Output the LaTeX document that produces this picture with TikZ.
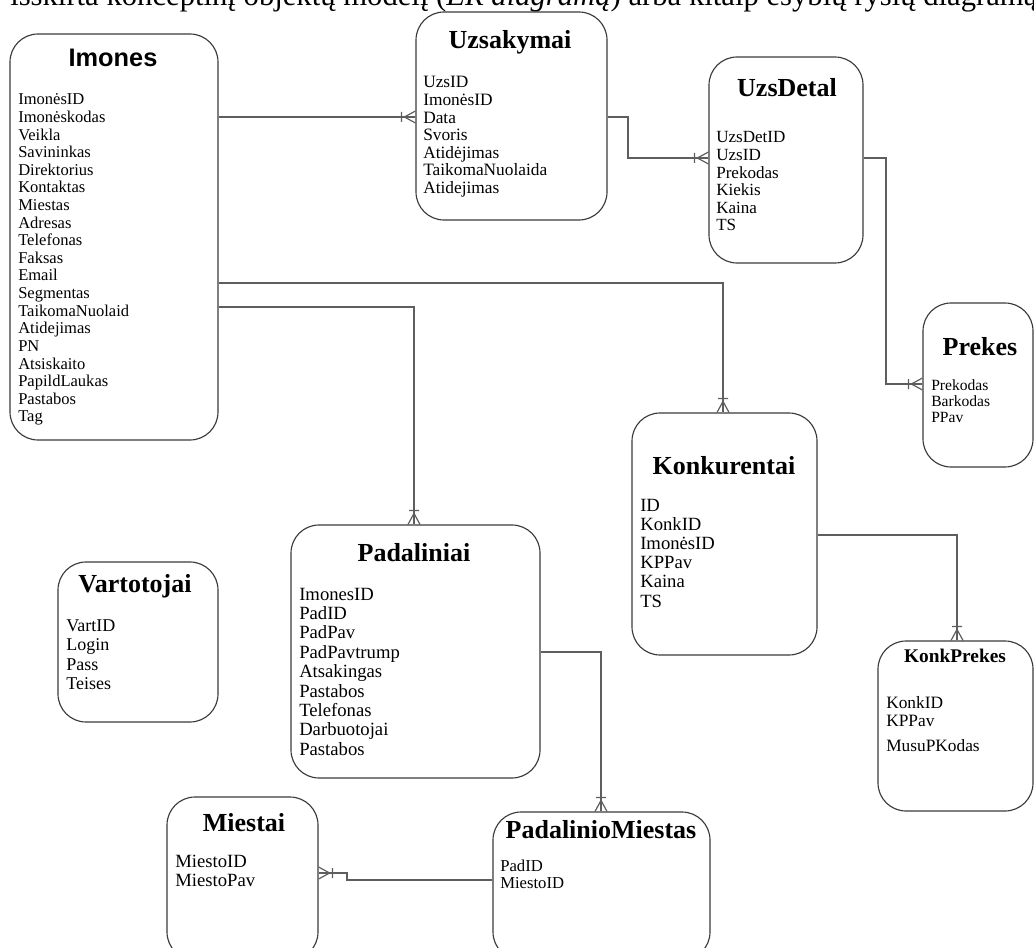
\documentclass[tikz,border=0pt]{standalone}
\usepackage{fontspec}
\setmainfont{Liberation Serif}
\newfontfamily\headsans{Liberation Sans}
\usetikzlibrary{fit,calc}

\definecolor{boxline}{HTML}{3A3A3A}
\definecolor{linkline}{HTML}{5E5E5E}

\tikzset{
  entity/.style={draw=boxline, line width=0.85pt, rounded corners=21pt, inner sep=0pt},
  title/.style={anchor=base, inner sep=0pt, font=\bfseries\fontsize{19.5}{20}\selectfont},
  field/.style={anchor=base west, inner sep=0pt},
  link/.style={draw=linkline, line width=1.1pt},
  crowfoot/.pic={
    \draw[draw=linkline, line width=0.9pt] (-11,0) -- (0,6) (-11,0) -- (0,-6)
      (-14,-5) -- (-14,5);
  }
}

% one column of attribute names, one node per line
\newcommand\fieldlist[6]{%
  \foreach \f [count=\i] in {#6}
    \node[field, font=\fontsize{#1}{#1}\selectfont] (#2\i) at (#3, {#4+(\i-1)*#5}) {\f};
}

\begin{document}
\begin{tikzpicture}[x=0.75pt, y=-0.75pt]
\useasboundingbox (0,0) rectangle (1034,948);

% heading line of the page, cut by the top edge
\node[anchor=base west, inner sep=0pt, font=\fontsize{23}{23}\selectfont] (heading) at (10,6)
  {išskirta konceptinį objektų modelį (\textit{ER diagramą}) arba kitaip esybių ryšių diagramą};

% entities
\node[entity, fit={(10,34) (218,440)}] (imones) {};
\node[title, font=\headsans\bfseries\fontsize{19}{20}\selectfont] (imonesT) at (113,67) {Imones};
\fieldlist{12.4}{imf}{18}{105}{17.6}{ImonėsID,Imonėskodas,Veikla,Savininkas,Direktorius,Kontaktas,Miestas,Adresas,Telefonas,Faksas,Email,Segmentas,TaikomaNuolaid,Atidejimas,PN,Atsiskaito,PapildLaukas,Pastabos,Tag}

\node[entity, fit={(416,12) (607,220)}] (uzs) {};
\node[title] (uzsT) at (510,49) {Uzsakymai};
\fieldlist{13}{uzf}{423}{88}{17.6}{UzsID,ImonėsID,Data,Svoris,Atidėjimas,TaikomaNuolaida,Atidejimas}

\node[entity, fit={(709,57) (863,263)}] (det) {};
\node[title] (detT) at (787,97) {UzsDetal};
\fieldlist{12.8}{dtf}{716}{143}{17.6}{UzsDetID,UzsID,Prekodas,Kiekis,Kaina,TS}

\node[entity, fit={(923,303) (1033,467)}] (prek) {};
\node[title] (prekT) at (980,355) {Prekes};
\fieldlist{11.7}{prf}{931}{390}{16}{Prekodas,Barkodas,PPav}

\node[entity, fit={(632,413) (817,655)}] (konk) {};
\node[title] (konkT) at (724,474) {Konkurentai};
\fieldlist{14}{kof}{640}{511}{19.2}{ID,KonkID,ImonėsID,KPPav,Kaina,TS}

\node[entity, fit={(878,641) (1033,811)}] (kprek) {};
\node[title, font=\bfseries\fontsize{14.5}{15}\selectfont] (kprekT) at (955,662) {KonkPrekes};
\fieldlist{13}{kpf}{886}{708}{18.5}{KonkID,KPPav}
\node[field, font=\fontsize{13}{13}\selectfont] (kpf3) at (886,751) {MusuPKodas};

\node[entity, fit={(291,525) (540,778)}] (pad) {};
\node[title] (padT) at (414,561) {Padaliniai};
\fieldlist{14}{paf}{299}{600}{19.4}{ImonesID,PadID,PadPav,PadPavtrump,Atsakingas,Pastabos,Telefonas,Darbuotojai,Pastabos}

\node[entity, fit={(58,562) (218,722)}] (vart) {};
\node[title] (vartT) at (135,592) {Vartotojai};
\fieldlist{13.5}{vaf}{66}{631}{19.5}{VartID,Login,Pass,Teises}

\node[entity, fit={(167,797) (318,960)}] (mie) {};
\node[title] (mieT) at (244,831) {Miestai};
\fieldlist{14}{mif}{175}{867}{19}{MiestoID,MiestoPav}

\node[entity, fit={(493,812) (710,960)}] (pm) {};
\node[title] (pmT) at (601,838) {PadalinioMiestas};
\fieldlist{12.5}{pmf}{500}{871}{17.5}{PadID,MiestoID}

% relationships (one side plain, many side with crow's foot)
\draw[link] (imones.east |- 0,117) -- (uzs.west |- 0,117);
\pic at (uzs.west |- 0,117) {crowfoot};

\draw[link] (uzs.east |- 0,117) -- (628,117) -- (628,158) -- (det.west |- 0,158);
\pic at (det.west |- 0,158) {crowfoot};

\draw[link] (det.east |- 0,158) -- (886,158) -- (886,384) -- (prek.west |- 0,384);
\pic at (prek.west |- 0,384) {crowfoot};

\draw[link] (imones.east |- 0,283) -- (723,283) -- (konk.north -| 723,0);
\pic[rotate=-90] at (konk.north -| 723,0) {crowfoot};

\draw[link] (imones.east |- 0,307) -- (414,307) -- (pad.north -| 414,0);
\pic[rotate=-90] at (pad.north -| 414,0) {crowfoot};

\draw[link] (konk.east |- 0,535) -- (957,535) -- (kprek.north -| 957,0);
\pic[rotate=-90] at (kprek.north -| 957,0) {crowfoot};

\draw[link] (pad.east |- 0,652) -- (601,652) -- (pm.north -| 601,0);
\pic[rotate=-90] at (pm.north -| 601,0) {crowfoot};

\draw[link] (pm.west |- 0,880) -- (347,880) -- (347,873) -- (mie.east |- 0,873);
\pic[rotate=180] at (mie.east |- 0,873) {crowfoot};
\end{tikzpicture}
\end{document}
